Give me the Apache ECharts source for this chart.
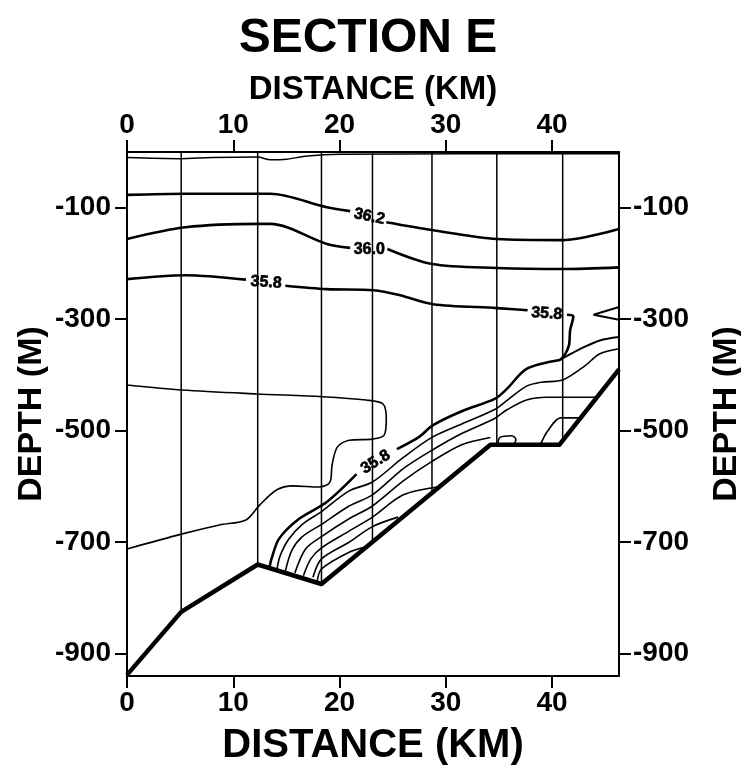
<!DOCTYPE html>
<html>
<head>
<meta charset="utf-8">
<script src="https://cdn.jsdelivr.net/npm/echarts@6/dist/echarts.min.js"></script>
<style>
html,body{margin:0;padding:0;background:#fff;}
#chart{width:741px;height:769px;}
</style>
</head>
<body>
<div id="chart"></div>
<script>
// ---- data (km, depth m) ----
const distanceTicks = [0, 10, 20, 30, 40];
const depthTicks = [-100, -300, -500, -700, -900];

const bathymetry = [[0,-938],[5.1,-825],[12.3,-740],[18.3,-775],[34.2,-525],[40.7,-525],[46.3,-390]];
const stationKm = [5.1, 12.3, 18.3, 23.1, 28.7, 34.8, 41.0];
const stationBottom = [-825, -740, -775, -700, -612, -525, -518];

const surfaceLine = [[0,-10],[5,-12],[8,-10],[12.3,-9],[13.5,-14],[15,-13],[17,-7],[20,-4],[46.3,-3]];

const c362a = [[0,-77],[5.5,-75],[12.5,-75],[13.5,-75],[18.8,-99],[21.0,-106]];
const c362b = [[24.4,-126],[28.7,-140],[34.8,-156],[41,-158],[46.3,-138]];
const c360a = [[0,-156],[5.5,-135],[12.5,-129],[13.5,-129],[18.8,-165],[21,-172]];
const c360b = [[24.5,-174],[28.7,-201],[34.8,-208],[41,-210],[46.3,-207]];
const c358a = [[0,-228],[5.5,-221],[11.2,-229]];
const c358b = [[14.9,-240],[18.8,-246],[23.2,-248],[25.7,-257],[28.8,-273],[34.8,-280],[37.7,-284]];
const c358c = [[41.4,-292],[42,-295],[41.7,-320],[41.6,-346],[41.2,-364],[40.75,-373]];
const c358d = [[40.75,-373],[37.6,-389],[35.75,-425],[34.6,-443],[31.5,-465],[28.8,-490],[27.5,-511],[25.4,-533]];
const c358e = [[21.6,-578],[18.8,-628],[16.2,-658],[14.3,-694],[13.6,-730],[13.4,-746]];
const edgeLine = [[46.3,-332],[44.5,-338],[43,-350],[41.5,-365],[40.75,-373]];
const wedge = [[46.3,-278],[43.9,-292],[46.3,-301]];

const loopLine = [[0,-418],[5.2,-427],[12.2,-434],[18.4,-439],[22.5,-445],[24.1,-452],[24.4,-479],[24.2,-508],[23.1,-515],[20.9,-517],[19.8,-529],[19.3,-561],[19.1,-592],[18.1,-601],[15.6,-599],[14.1,-606],[12.5,-633],[11.2,-660],[8.7,-669],[5.2,-685],[0,-712]];

const slope2 = [[46.3,-353],[44.5,-362],[43,-385],[41,-409],[39,-413],[37.6,-420],[35.8,-445],[34.6,-462],[31.5,-488],[28.7,-512],[26,-548],[23.1,-592],[20.9,-608],[18.3,-645],[16.5,-668],[15.2,-695],[14.4,-725],[14.1,-750]];
const slope3 = [[44.2,-440],[42,-440],[41,-440],[39.5,-440],[37.6,-445],[35.8,-462],[34.6,-478],[31.5,-505],[28.7,-535],[26,-568],[23.1,-615],[20.9,-635],[18.3,-668],[16.5,-690],[15.5,-715],[14.9,-752]];
const slope4 = [[34.2,-512],[31.5,-525],[28.7,-555],[26,-590],[23.1,-635],[20.9,-658],[18.3,-690],[16.8,-712],[15.8,-755]];
const slope5 = [[29.5,-600],[26,-615],[23.1,-655],[20.9,-680],[18.3,-710],[17.3,-730],[16.6,-760]];
const slope6 = [[25.5,-655],[23.1,-672],[20.9,-700],[18.3,-730],[17.5,-763]];
const slope7 = [[22.5,-708],[20.9,-718],[18.3,-748],[17.9,-770]];
const floorLine = [[38.9,-525],[39.6,-500],[40.8,-477],[42.7,-477]];
const floorLoop = [[34.9,-525],[35.1,-512],[36.2,-509],[36.6,-516],[36.4,-525]];

const contourLabels = [
  {text:'36.2', x:22.8, y:-116, rot:-12},
  {text:'36.0', x:22.8, y:-175, rot:0},
  {text:'35.8', x:13.1, y:-234, rot:-4},
  {text:'35.8', x:39.5, y:-290, rot:-4},
  {text:'35.8', x:23.4, y:-556, rot:32}
];

// ---- chart ----
const FONT = 'Liberation Sans';
const chart = echarts.init(document.getElementById('chart'), null, {renderer:'canvas'});

function line(data, width, smooth){
  return {type:'line', data:data, symbol:'none', smooth: smooth === undefined ? 0.3 : smooth,
    lineStyle:{color:'#000', width:width}, silent:true, z:3};
}

const series = [];
stationKm.forEach(function(k, i){
  series.push({type:'line', data:[[k,0],[k,stationBottom[i]]], symbol:'none',
    lineStyle:{color:'#000', width:1.5}, silent:true, z:2});
});
series.push(line(surfaceLine, 1.5));
[c362a,c362b,c360a,c360b,c358a,c358b,c358c,c358d,c358e].forEach(function(d){ series.push(line(d, 2.6)); });
series.push(line(edgeLine, 2));
series.push(line(wedge, 2, 0));
series.push(line(loopLine, 1.6));
[slope2,slope3,slope4,slope5,slope6,slope7,floorLine,floorLoop].forEach(function(d){ series.push(line(d, 1.6)); });
series.push({type:'line', data:bathymetry, symbol:'none', lineStyle:{color:'#000', width:4.5, join:'round'}, silent:true, z:4});
series.push({type:'scatter', symbolSize:0, z:5, silent:true,
  itemStyle:{color:'#000', opacity:1},
  data: contourLabels.map(function(l){ return {value:[l.x,l.y], name:l.text, label:{rotate:l.rot}}; }),
  label:{show:true, position:'inside', formatter:'{b}', color:'#000', opacity:1,
    textBorderColor:'#000', textBorderWidth:0.6,
    fontFamily:FONT, fontWeight:'bold', fontSize:16}
});

const axisCommon = {
  type:'value', splitLine:{show:false}, nameMoveOverlap:false,
  axisLine:{show:true, onZero:false, lineStyle:{color:'#000', width:2}},
  axisTick:{show:true, inside:false, length:12, lineStyle:{color:'#000', width:2}},
  axisLabel:{color:'#000', fontFamily:FONT, fontWeight:'bold', fontSize:28}
};

chart.setOption({
  animation:false,
  backgroundColor:'#fff',
  title:{text:'SECTION E', left:363, top:10, textAlign:'center',
    textStyle:{fontFamily:FONT, fontWeight:'bold', fontSize:48, color:'#000'}},
  grid:{left:127, top:152, right:122, bottom:93, outerBoundsMode:'none', containLabel:false},
  xAxis:[
    Object.assign({}, axisCommon, {position:'bottom', min:0, max:46.3,
      axisTick:Object.assign({}, axisCommon.axisTick, {customValues:distanceTicks}),
      axisLabel:Object.assign({}, axisCommon.axisLabel, {customValues:distanceTicks, margin:13}),
      name:'DISTANCE (KM)', nameLocation:'middle', nameGap:50,
      nameTextStyle:{fontFamily:FONT, fontWeight:'bold', fontSize:40, color:'#000'}}),
    Object.assign({}, axisCommon, {position:'top', min:0, max:46.3,
      axisTick:Object.assign({}, axisCommon.axisTick, {customValues:distanceTicks}),
      axisLabel:Object.assign({}, axisCommon.axisLabel, {customValues:distanceTicks, margin:13}),
      name:'DISTANCE (KM)', nameLocation:'middle', nameGap:46,
      nameTextStyle:{fontFamily:FONT, fontWeight:'bold', fontSize:33, color:'#000'}})
  ],
  yAxis:[
    Object.assign({}, axisCommon, {position:'left', min:-940, max:0,
      axisTick:Object.assign({}, axisCommon.axisTick, {customValues:depthTicks}),
      axisLabel:Object.assign({}, axisCommon.axisLabel, {customValues:depthTicks, margin:16}),
      name:'DEPTH (M)', nameLocation:'middle', nameGap:78, nameRotate:90,
      nameTextStyle:{fontFamily:FONT, fontWeight:'bold', fontSize:34, color:'#000'}}),
    Object.assign({}, axisCommon, {position:'right', min:-940, max:0,
      axisTick:Object.assign({}, axisCommon.axisTick, {customValues:depthTicks}),
      axisLabel:Object.assign({}, axisCommon.axisLabel, {customValues:depthTicks, margin:14}),
      name:'DEPTH (M)', nameLocation:'middle', nameGap:91, nameRotate:90,
      nameTextStyle:{fontFamily:FONT, fontWeight:'bold', fontSize:34, color:'#000'}})
  ],
  series: series
});
</script>
</body>
</html>
